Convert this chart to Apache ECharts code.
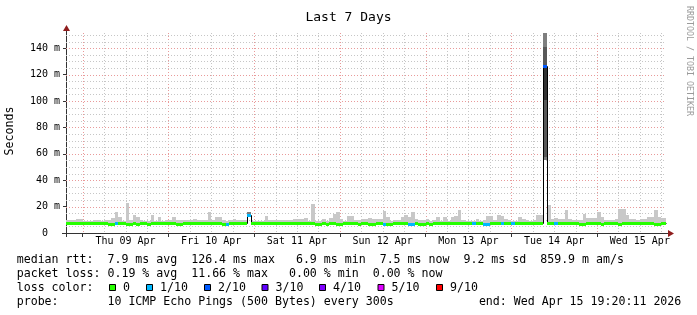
<!DOCTYPE html>
<html><head><meta charset="utf-8">
<script src="https://cdn.jsdelivr.net/npm/echarts@6/dist/echarts.min.js"></script>
<style>html,body{margin:0;padding:0;background:#fff;}#c{width:697px;height:315px;}</style>
</head><body><div id="c"></div>
<script>
// ---------------- data (hours relative to Thu 09 Apr 00:00) ----------------
const firstHour = -5;              // first hourly step
const xMin = -4.6636;              // Wed 08 Apr 19:20:11
const xMax = 163.3364;             // Wed 15 Apr 19:20:11
const yMax = 151.6;                // ms

const dayLabels = ['Thu 09 Apr','Fri 10 Apr','Sat 11 Apr','Sun 12 Apr','Mon 13 Apr','Tue 14 Apr','Wed 15 Apr'];
const dayLabelHours = [12, 36, 60, 84, 108, 132, 156];
const dayStartHours = [0, 24, 48, 72, 96, 120, 144];
const sixHourHours = [6, 12, 18, 30, 36, 42, 54, 60, 66, 78, 84, 90, 102, 108, 114, 126, 132, 138, 150, 156, 162];
const yTickValues = [0, 20, 40, 60, 80, 100, 120, 140];
const yMinorValues = [5, 10, 15, 25, 30, 35, 45, 50, 55, 65, 70, 75, 85, 90, 95, 105, 110, 115, 125, 130, 135, 145, 150];

// median rtt per hourly step (ms)
const median = [
  7.7, 7.7, 7.7, 7.7, 7.7, 7.7, 7.7, 7.7, 7.7, 7.7, 7.7, 7.7,
  6.95, 6.95, 7.7, 7.7, 7.7, 6.95, 6.95, 7.7, 6.95, 7.7, 7.7, 6.95,
  7.7, 7.7, 7.7, 7.7, 7.7, 7.7, 7.7, 6.95, 6.95, 7.7, 7.7, 7.7,
  7.7, 7.7, 7.7, 7.7, 7.7, 7.7, 7.7, 7.7, 6.95, 6.95, 7.7, 7.7,
  7.7, 7.7, 7.7, 13.4, 7.7, 7.7, 7.7, 7.7, 7.7, 7.7, 7.7, 7.7,
  7.7, 7.7, 7.7, 7.7, 7.7, 7.7, 7.7, 7.7, 7.7, 7.7, 6.95, 6.95,
  7.7, 6.95, 7.7, 7.7, 6.95, 6.95, 7.7, 7.7, 7.7, 7.7, 6.95, 7.7,
  7.7, 6.95, 6.95, 7.7, 7.7, 6.95, 6.95, 6.95, 7.7, 7.7, 7.7, 7.7,
  6.95, 6.95, 7.7, 6.95, 6.95, 7.7, 6.95, 7.7, 7.7, 7.7, 7.7, 7.7,
  7.7, 7.7, 7.7, 7.7, 7.7, 7.7, 7.7, 7.7, 7.7, 6.95, 6.95, 7.7,
  7.7, 7.7, 7.7, 7.7, 7.7, 7.7, 7.7, 7.7, 7.7, 7.7, 7.7, 7.7,
  7.7, 7.7, 126.4, 7.7, 7.7, 7.7, 7.7, 7.7, 7.7, 7.7, 7.7, 7.7,
  6.95, 6.95, 7.7, 7.7, 7.7, 7.7, 6.95, 7.7, 7.7, 7.7, 7.7, 6.95,
  7.7, 7.7, 7.7, 7.7, 7.7, 7.7, 7.7, 7.7, 7.7, 6.95, 6.95, 7.5, 7.5
];
// slowest ping per hourly step (ms)
const smokeMax = [
  9.9, 9.9, 9.9, 10.3, 10.3, 9.3, 9.3, 9.3, 9.9, 9.9, 9.3, 9.6,
  9.9, 11.4, 15.9, 12.1, 9.1, 23.0, 9.9, 13.6, 12.1, 9.9, 9.3, 9.3,
  13.6, 9.1, 12.1, 9.1, 9.6, 9.6, 12.1, 9.9, 9.9, 9.6, 9.6, 9.6,
  10.9, 9.6, 9.6, 10.1, 15.9, 9.9, 12.1, 12.1, 9.9, 9.3, 9.6, 10.3,
  9.6, 9.6, 9.9, 15.9, 9.1, 9.1, 9.3, 9.1, 12.6, 9.6, 9.6, 9.6,
  9.9, 9.6, 9.9, 9.9, 10.3, 10.3, 10.6, 11.4, 9.1, 22.3, 9.1, 9.1,
  10.6, 9.1, 11.4, 14.4, 15.9, 10.6, 9.1, 12.6, 12.6, 9.9, 9.9, 10.3,
  10.3, 11.4, 10.6, 10.6, 10.6, 16.7, 12.1, 9.1, 9.9, 9.9, 12.1, 13.6,
  12.1, 15.9, 10.6, 9.6, 9.6, 10.6, 9.1, 9.9, 12.1, 9.1, 12.1, 9.1,
  12.1, 12.6, 17.4, 9.9, 9.1, 9.1, 9.1, 10.6, 9.1, 9.9, 12.6, 13.0,
  9.9, 13.6, 12.6, 10.6, 9.9, 9.1, 9.1, 12.1, 10.6, 9.9, 9.1, 9.9,
  13.6, 13.6, 151.6, 21.2, 10.6, 11.6, 10.3, 10.3, 17.4, 10.6, 10.0, 10.0,
  10.0, 14.2, 11.6, 11.6, 11.6, 16.2, 12.1, 10.0, 10.0, 10.0, 10.3, 18.0,
  18.0, 13.6, 10.6, 10.6, 10.0, 10.3, 10.3, 12.4, 12.4, 17.4, 12.1, 11.6, 11.6
];
// lost pings (out of 10) per hourly step
const lossCount = [
  0,0,0,0,0,0,0,0,0,0,0,0,
  0,0,1,0,0,0,0,0,0,0,0,0,
  0,0,0,0,0,0,0,0,0,0,0,0,
  0,0,0,0,0,0,0,0,0,1,0,0,
  0,0,0,1,0,0,0,0,0,0,0,0,
  0,0,0,0,0,0,0,0,0,0,0,0,
  0,0,0,0,0,0,0,0,0,0,0,0,
  0,0,0,0,0,1,0,0,0,0,0,0,
  1,1,0,0,0,0,0,0,0,0,0,0,
  0,0,0,0,0,0,1,0,0,1,1,0,
  0,0,1,0,0,1,0,0,0,0,0,0,
  0,0,2,0,0,1,0,0,0,0,0,0,
  0,0,0,0,0,0,0,0,0,0,0,0,
  0,0,0,0,0,0,0,0,0,0,0,0,0
];
// inner smoke layers of the two spikes
const smokeBandHour  = [46, 46, 129, 129, 129, 129, 129];
const smokeBandLow   = [13.4, 14.6, 55.3, 57.9, 100.8, 126.4, 141.3];
const smokeBandHigh  = [14.6, 15.9, 57.9, 100.8, 126.4, 141.3, 151.6];
const smokeBandLevel = [4, 2, 2, 3, 4, 3, 2];

const lossLegendLabels = ['0', '1/10', '2/10', '3/10', '4/10', '5/10', '9/10'];
const lossLegendLevels = [0, 1, 2, 3, 4, 5, 9];
const legendLines = [
  'median rtt:  7.9 ms avg  126.4 ms max   6.9 ms min  7.5 ms now  9.2 ms sd  859.9 m am/s',
  'packet loss: 0.19 % avg  11.66 % max   0.00 % min  0.00 % now',
  'loss color:',
  'probe:       10 ICMP Echo Pings (500 Bytes) every 300s'
];
const endText = 'end: Wed Apr 15 19:20:11 2026';

// ---------------- styles ----------------
const MONO = '"DejaVu Sans Mono", monospace';
const SHADES = ['#c8c8c8', '#a4a4a4', '#7e7e7e', '#585858', '#323232'];
function lossColor(n) {
  if (n <= 0) return '#26ff00';
  if (n === 1) return '#00b8ff';
  if (n === 2) return '#0059ff';
  if (n === 3) return '#5e00ff';
  if (n === 4) return '#7e00ff';
  if (n <= 8) return '#dd00ff';
  return '#ff0000';
}

const gridItems = [];
sixHourHours.forEach(h => gridItems.push([0, h, 0]));
dayStartHours.forEach(h => gridItems.push([0, h, 1]));
yMinorValues.forEach(v => gridItems.push([1, v, 0]));
yTickValues.filter(v => v > 0).forEach(v => gridItems.push([1, v, 1]));

const smokeData = smokeMax.map((hi, i) => [firstHour + i, median[i], hi]);
const layerData = smokeBandHour.map((h, i) => [h, smokeBandLow[i], smokeBandHigh[i], smokeBandLevel[i]]);
const lineData = median.map((m, i) => [firstHour + i, m, i > 0 ? median[i - 1] : m]);
const bandData = median.map((m, i) => [firstHour + i, m, lossCount[i]]);

function stepRect(params, api, h, lo, hi) {
  const cs = params.coordSys;
  const p0 = api.coord([h, hi]), p1 = api.coord([h + 1, lo]);
  const x0 = Math.max(Math.round(p0[0]), cs.x), x1 = Math.min(Math.round(p1[0]), cs.x + cs.width);
  const y0 = Math.round(p0[1]), y1 = Math.round(p1[1]);
  if (x1 <= x0 || y1 <= y0) return null;
  return { x: x0, y: y0, width: x1 - x0, height: y1 - y0 };
}

const option = {
  animation: false,
  backgroundColor: '#ffffff',
  title: {
    text: 'Last 7 Days', left: 'center', top: 6,
    textStyle: { fontFamily: MONO, fontSize: 13, fontWeight: 'normal', color: '#000' }
  },
  grid: { left: 66, top: 33, width: 600, height: 200, containLabel: false },
  xAxis: {
    type: 'value', min: xMin, max: xMax,
    axisLine: { show: true, onZero: false, lineStyle: { color: '#333', width: 1 } },
    axisTick: { show: true, customValues: dayStartHours, length: 4, lineStyle: { color: '#333' } },
    axisLabel: {
      show: true, customValues: dayLabelHours, margin: 3,
      formatter: v => dayLabels[dayLabelHours.indexOf(Math.round(v))] || '',
      fontFamily: MONO, fontSize: 10, color: '#000'
    },
    splitLine: { show: false }
  },
  yAxis: {
    type: 'value', min: 0, max: yMax,
    axisLine: { show: true, onZero: false, lineStyle: { color: '#333', width: 1 } },
    axisTick: { show: true, customValues: yTickValues, length: 3, lineStyle: { color: '#333' } },
    axisLabel: {
      customValues: yTickValues, margin: 6,
      formatter: v => (v === 0 ? '0  ' : v + ' m'),
      fontFamily: MONO, fontSize: 10, color: '#000'
    },
    splitLine: { show: false }
  },
  series: [
    { // grid
      type: 'custom', z: 1, silent: true, data: gridItems,
      renderItem: (params, api) => {
        const cs = params.coordSys;
        const kind = api.value(0), v = api.value(1), major = api.value(2);
        let shape;
        if (kind === 0) {
          const x = Math.round(api.coord([v, 0])[0]) + 0.5;
          shape = { x1: x, y1: cs.y, x2: x, y2: cs.y + cs.height };
        } else {
          const y = Math.round(api.coord([xMin, v])[1]) + 0.5;
          shape = { x1: cs.x, y1: y, x2: cs.x + cs.width, y2: y };
        }
        return { type: 'line', shape, style: { stroke: major ? '#e99a9a' : '#c6c6c6', lineWidth: 1, lineDash: [1, 2] } };
      }
    },
    { // outer smoke
      type: 'custom', z: 2, silent: true, data: smokeData,
      renderItem: (params, api) => {
        const r = stepRect(params, api, api.value(0), api.value(1), api.value(2));
        return r ? { type: 'rect', shape: r, style: { fill: SHADES[0] } } : null;
      }
    },
    { // spike layers
      type: 'custom', z: 3, silent: true, data: layerData,
      renderItem: (params, api) => {
        const r = stepRect(params, api, api.value(0), api.value(1), api.value(2));
        return r ? { type: 'rect', shape: r, style: { fill: SHADES[api.value(3)] } } : null;
      }
    },
    { // median step line
      type: 'custom', z: 4, silent: true, data: lineData,
      renderItem: (params, api) => {
        const cs = params.coordSys;
        const h = api.value(0), m = api.value(1), mp = api.value(2);
        const xa = Math.round(api.coord([h, m])[0]), xb = Math.round(api.coord([h + 1, m])[0]);
        const y = Math.round(api.coord([h, m])[1]) + 0.5, yp = Math.round(api.coord([h, mp])[1]) + 0.5;
        const pts = [];
        if (xa >= cs.x) { pts.push([xa + 0.5, yp]); pts.push([xa + 0.5, y]); }
        else pts.push([cs.x, y]);
        pts.push([Math.min(xb, cs.x + cs.width) + 0.5, y]);
        return { type: 'polyline', shape: { points: pts }, style: { stroke: '#000', lineWidth: 1, fill: null } };
      }
    },
    { // median band coloured by loss
      type: 'custom', z: 5, silent: true, data: bandData,
      renderItem: (params, api) => {
        const cs = params.coordSys;
        const h = api.value(0), m = api.value(1);
        const p = api.coord([h, m]);
        const x0 = Math.max(Math.round(p[0]), cs.x), x1 = Math.min(Math.round(api.coord([h + 1, m])[0]), cs.x + cs.width);
        if (x1 <= x0) return null;
        return { type: 'rect', shape: { x: x0, y: Math.round(p[1]) - 1, width: x1 - x0, height: 3 }, style: { fill: lossColor(api.value(2)) } };
      }
    }
  ],
  graphic: []
};

const G = option.graphic;
// axis stubs and arrows
G.push({ type: 'line', shape: { x1: 62, y1: 233.5, x2: 67, y2: 233.5 }, style: { stroke: '#333', lineWidth: 1 } });
G.push({ type: 'line', shape: { x1: 665, y1: 233.5, x2: 669, y2: 233.5 }, style: { stroke: '#333', lineWidth: 1 } });
G.push({ type: 'line', shape: { x1: 66.5, y1: 233, x2: 66.5, y2: 237 }, style: { stroke: '#333', lineWidth: 1 } });
G.push({ type: 'line', shape: { x1: 66.5, y1: 29, x2: 66.5, y2: 34 }, style: { stroke: '#333', lineWidth: 1 } });
G.push({ type: 'polygon', shape: { points: [[668, 230], [674, 233.5], [668, 237]] }, style: { fill: '#8f1d1d' } });
G.push({ type: 'polygon', shape: { points: [[63, 31], [66.5, 25], [70, 31]] }, style: { fill: '#8f1d1d' } });
// vertical titles
G.push({ type: 'text', x: 10, y: 131, rotation: Math.PI / 2,
  style: { text: 'Seconds', fontFamily: MONO, fontSize: 11.6, fill: '#000', align: 'center', verticalAlign: 'middle' } });
G.push({ type: 'text', x: 689, y: 61, rotation: -Math.PI / 2,
  style: { text: 'RRDTOOL / TOBI OETIKER', fontFamily: MONO, fontSize: 8.3, fill: '#9a9a9a', align: 'center', verticalAlign: 'middle' } });
// legend
const rowY = [260, 273.5, 287.5, 301.5];
legendLines.forEach((t, i) => G.push({ type: 'text', x: 16.7, y: rowY[i],
  style: { text: t, fontFamily: MONO, fontSize: 11.6, fill: '#000', align: 'left', verticalAlign: 'middle' } }));
G.push({ type: 'text', x: 681.3, y: rowY[3],
  style: { text: endText, fontFamily: MONO, fontSize: 11.6, fill: '#000', align: 'right', verticalAlign: 'middle' } });
const boxX = [109, 146, 204, 261.5, 319, 377.5, 436];
lossLegendLabels.forEach((lab, i) => {
  G.push({ type: 'rect', shape: { x: boxX[i] + 0.5, y: 284.5, width: 6, height: 6 },
    style: { fill: lossColor(lossLegendLevels[i]), stroke: '#000', lineWidth: 1 } });
  G.push({ type: 'text', x: boxX[i] + 14, y: rowY[2],
    style: { text: lab, fontFamily: MONO, fontSize: 11.6, fill: '#000', align: 'left', verticalAlign: 'middle' } });
});

const chart = echarts.init(document.getElementById('c'), null, { renderer: 'canvas', width: 697, height: 315 });
chart.setOption(option);
</script>
</body></html>
